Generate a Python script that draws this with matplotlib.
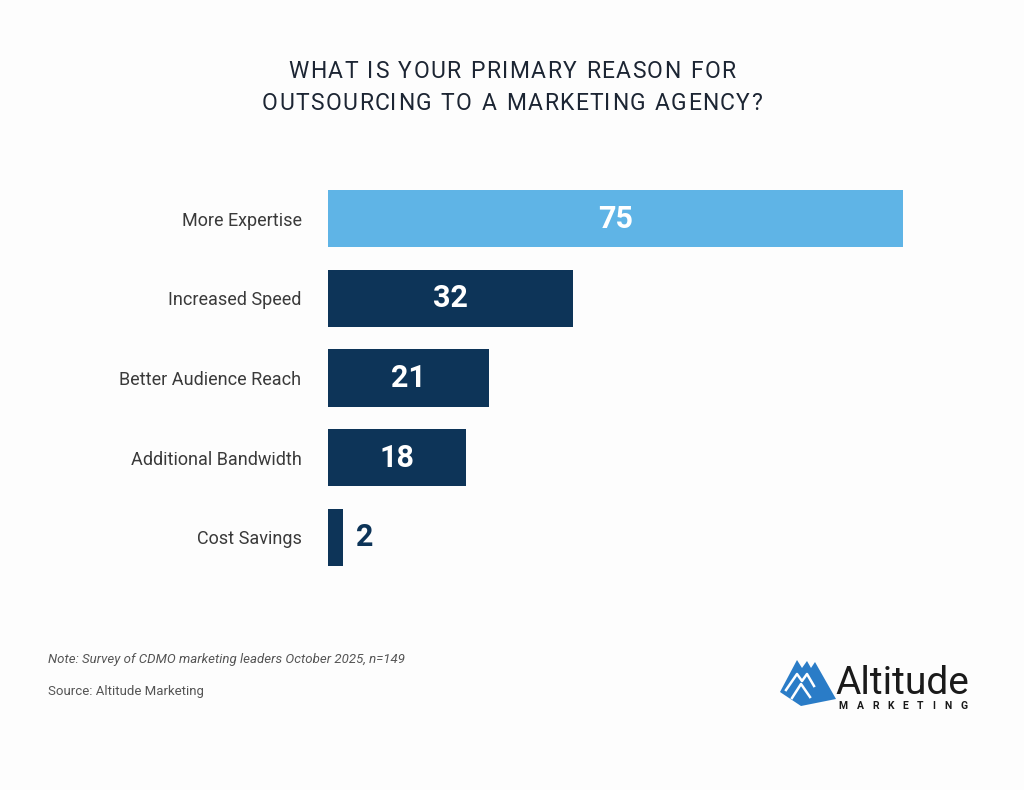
import matplotlib.pyplot as plt
from matplotlib.patches import Polygon

reasons = ['More Expertise', 'Increased Speed', 'Better Audience Reach',
           'Additional Bandwidth', 'Cost Savings']
values = [75, 32, 21, 18, 2]

navy = '#0d3458'
light = '#5fb4e6'
bar_colors = [light, navy, navy, navy, navy]

plt.rcParams['font.family'] = ['Roboto', 'DejaVu Sans']

fig = plt.figure(figsize=(10.24, 7.9), dpi=100, facecolor='#fdfdfd')
ax = fig.add_axes([328/1024, 1-577/790, 575/1024, 398/790])
ax.set_facecolor('none')

ypos = range(len(reasons))
bars = ax.barh(ypos, values, height=0.72, color=bar_colors)
ax.set_xlim(0, 75)
ax.set_ylim(4.5, -0.5)

for i, v in enumerate(values):
    if v > 10:
        ax.text(v/2, i, str(v), ha='center', va='center', color='white',
                fontsize=22, fontweight='bold')
    else:
        ax.text(v + 1.6, i, str(v), ha='left', va='center', color=navy,
                fontsize=22, fontweight='bold')

ax.set_yticks(list(ypos))
ax.set_yticklabels(reasons, fontsize=13, color='#3a3a3a')
ax.tick_params(axis='y', length=0, pad=19)
ax.set_xticks([])
for s in ax.spines.values():
    s.set_visible(False)

renderer = fig.canvas.get_renderer()


def spaced_text(x_center, y, s, track, **kw):
    # draw text one letter at a time to get wide letter spacing
    widths = []
    for ch in s:
        t = fig.text(0, 0, ch if ch != ' ' else 'n', **kw)
        w = t.get_window_extent(renderer).width
        if ch == ' ':
            w *= 0.55
        widths.append(w)
        t.remove()
    total = sum(widths) + track * (len(s) - 1)
    x = x_center - total / 2
    for ch, w in zip(s, widths):
        fig.text(x / 1024, 1 - y / 790, ch, ha='left', va='center', **kw)
        x += w + track


spaced_text(512, 72, 'WHAT IS YOUR PRIMARY REASON FOR', 1.4,
            fontsize=16.5, color='#1c2533')
spaced_text(512, 103, 'OUTSOURCING TO A MARKETING AGENCY?', 1.4,
            fontsize=16.5, color='#1c2533')

# footnotes
fig.text(48/1024, 1-660/790, 'Note: Survey of CDMO marketing leaders October 2025, n=149',
         fontsize=9.5, style='italic', color='#555555', va='center')
fig.text(48/1024, 1-692/790, 'Source: Altitude Marketing',
         fontsize=9.5, color='#555555', va='center')

# logo
blue = '#2a7cc7'
shape = [(780, 692), (797, 660), (802, 668), (807, 661), (811, 668),
         (815, 662), (836, 699), (801, 706)]
fig.patches.append(Polygon([(x/1024, 1-y/790) for x, y in shape], closed=True,
                           transform=fig.transFigure, facecolor=blue,
                           edgecolor='none'))
stripes = [
    [(786, 690), (797, 674), (802, 681), (807, 674), (814, 686)],
    [(792, 698), (801, 684), (810, 697)],
]
for st in stripes:
    xs = [x/1024 for x, y in st]
    ys = [1-y/790 for x, y in st]
    fig.lines.append(plt.Line2D(xs, ys, transform=fig.transFigure,
                                color='white', linewidth=1.8))
fig.text(835/1024, 1-684/790, 'Altitude', fontsize=28, color='#1a1a1a',
         va='center', ha='left')
spaced_text(903, 706, 'MARKETING', 8.7, fontsize=7.5, fontweight='bold',
            color='#1a1a1a')

fig.savefig('out.png', dpi=100, facecolor=fig.get_facecolor())
